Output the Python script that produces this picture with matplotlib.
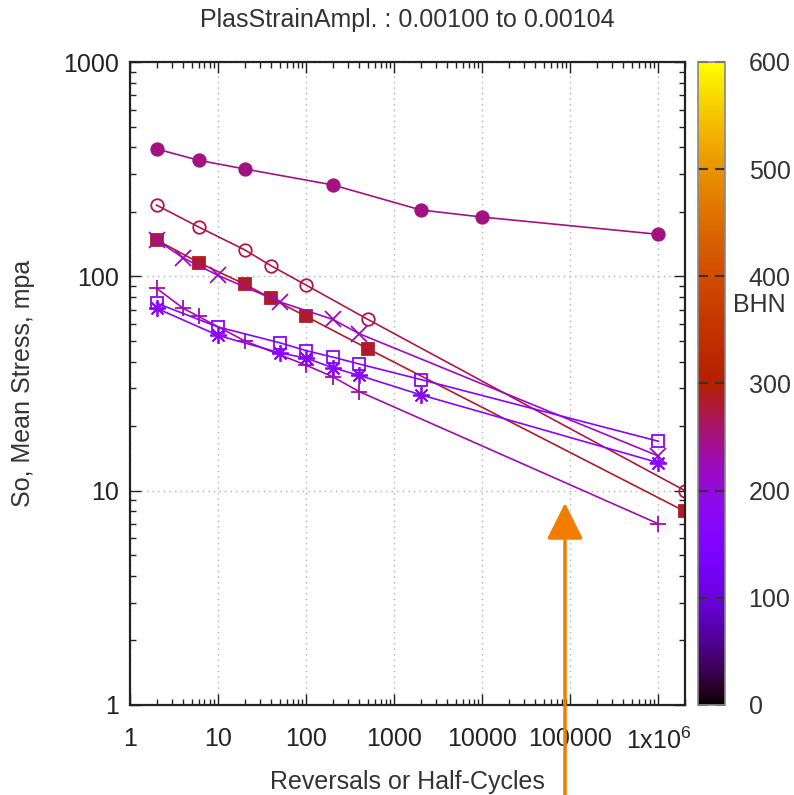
import matplotlib.pyplot as plt
import numpy as np
from matplotlib import colors, cm
from matplotlib.ticker import LogLocator, NullFormatter, FixedLocator, FixedFormatter

plt.rcParams["font.family"] = ["Liberation Sans", "DejaVu Sans"]
plt.rcParams["mathtext.fontset"] = "custom"
plt.rcParams["mathtext.rm"] = "Liberation Sans"
plt.rcParams["mathtext.it"] = "Liberation Sans"

# Hardness (BHN) of each material -> line colour from the palette
bhn = [250, 272, 285, 220, 230, 165, 175]

# Reversals and mean stress (MPa) per material
rev_a = [2, 6, 20, 200, 2000, 10000, 1e6]
so_a = [393, 348, 317, 267, 204, 189, 157]

rev_b = [2, 6, 20, 40, 100, 500, 2e6]
so_b = [215, 170, 133, 112, 91, 63, 10]

rev_c = [2, 6, 20, 40, 100, 500, 2e6]
so_c = [148, 116, 92, 79, 65, 46, 8]

rev_d = [2, 4, 10, 50, 200, 400, 1e6]
so_d = [148, 122, 101, 76, 63, 54, 14.5]

rev_e = [2, 4, 6, 20, 100, 200, 400, 1e6]
so_e = [88, 71, 65, 50, 38.5, 34, 29, 7]

rev_f = [2, 10, 50, 100, 200, 400, 2000, 1e6]
so_f = [75, 58, 49, 45, 42, 39, 33, 17]

rev_g = [2, 10, 50, 100, 200, 400, 2000, 1e6]
so_g = [71, 53, 44, 41.5, 37.5, 34.5, 28, 13.5]

x_ticks = [1, 10, 100, 1000, 10000, 100000, 1e6]
x_labels = ["1", "10", "100", "1000", "10000", "100000", "1x10$^{6}$"]
y_ticks = [1, 10, 100, 1000]
y_labels = ["1", "10", "100", "1000"]

rev_all = [rev_a, rev_b, rev_c, rev_d, rev_e, rev_f, rev_g]
so_all = [so_a, so_b, so_c, so_d, so_e, so_f, so_g]
# gnuplot point types: filled circle, open circle, filled square, x, +, open square, *
styles = [
    dict(marker="o", ms=9, mfc=None),
    dict(marker="o", ms=9, mfc="none"),
    dict(marker="s", ms=9, mfc=None),
    dict(marker="x", ms=12, mfc=None),
    dict(marker="+", ms=12, mfc=None),
    dict(marker="s", ms=9, mfc="none"),
    dict(marker=(8, 2, 0), ms=12, mfc=None),
]

cmap = plt.get_cmap("gnuplot")
norm = colors.Normalize(vmin=0, vmax=600)
FS = 18

fig = plt.figure(figsize=(7.94, 7.95), dpi=100)
ax = fig.add_axes([130 / 794, 1 - 705 / 795, 555 / 794, 643 / 795])

for rev, so, h, st in zip(rev_all, so_all, bhn, styles):
    c = cmap(norm(h))
    mfc = c if st["mfc"] is None else "none"
    ax.plot(rev, so, color=c, lw=1.2, marker=st["marker"], ms=st["ms"],
            mfc=mfc, mec=c, mew=1.3)

ax.set_xscale("log")
ax.set_yscale("log")
ax.set_xlim(1, 2e6)
ax.set_ylim(1, 1000)

ax.xaxis.set_major_locator(FixedLocator(x_ticks))
ax.xaxis.set_major_formatter(FixedFormatter(x_labels))
ax.yaxis.set_major_locator(FixedLocator(y_ticks))
ax.yaxis.set_major_formatter(FixedFormatter(y_labels))
ax.xaxis.set_minor_locator(LogLocator(base=10, subs=np.arange(2, 10), numticks=20))
ax.yaxis.set_minor_locator(LogLocator(base=10, subs=np.arange(2, 10), numticks=20))
ax.xaxis.set_minor_formatter(NullFormatter())
ax.yaxis.set_minor_formatter(NullFormatter())

ax.tick_params(which="both", direction="in", top=True, right=True,
               labelsize=FS, colors="#222222")
ax.tick_params(which="major", length=8, width=1.0)
ax.tick_params(which="minor", length=4, width=1.0)
ax.tick_params(axis="x", which="major", pad=16)
ax.tick_params(axis="y", which="major", pad=8)
for sp in ax.spines.values():
    sp.set_linewidth(1.6)
    sp.set_color("#222222")

ax.grid(True, which="major", linestyle=(0, (1, 3)), color="#b0b0b0", lw=1.0)

ax.set_xlabel("Reversals or Half-Cycles", fontsize=FS, color="#333333", labelpad=12)
ax.set_ylabel("So, Mean Stress, mpa", fontsize=FS, color="#333333", labelpad=20)
ax.set_title("PlasStrainAmpl. : 0.00100 to 0.00104", fontsize=FS,
             color="#333333", pad=25)

# colour box for hardness
cax = fig.add_axes([698 / 794, 1 - 705 / 795, 27 / 794, 643 / 795])
cb = fig.colorbar(cm.ScalarMappable(norm=norm, cmap=cmap), cax=cax)
cb.set_ticks([0, 100, 200, 300, 400, 500, 600])
cb.outline.set_edgecolor("#888888")
cb.outline.set_linewidth(1.2)
cax.tick_params(direction="in", left=True, right=True, length=7, width=1.5,
                colors="#333333", labelsize=FS, pad=17)
cax.text(1.30, 0.622, "BHN", transform=cax.transAxes, fontsize=FS,
         color="#333333", ha="left", va="center")

# pointer arrow under the plot
ax.annotate("", xy=(565 / 794, 1 - 503 / 795), xytext=(565 / 794, 0.0),
            xycoords="figure fraction", textcoords="figure fraction",
            arrowprops=dict(arrowstyle="-|>,head_length=0.8,head_width=0.4",
                            mutation_scale=28, color="#f07d00", lw=2.5,
                            shrinkA=0, shrinkB=0),
            annotation_clip=False)

fig.savefig("out.png", dpi=100)
